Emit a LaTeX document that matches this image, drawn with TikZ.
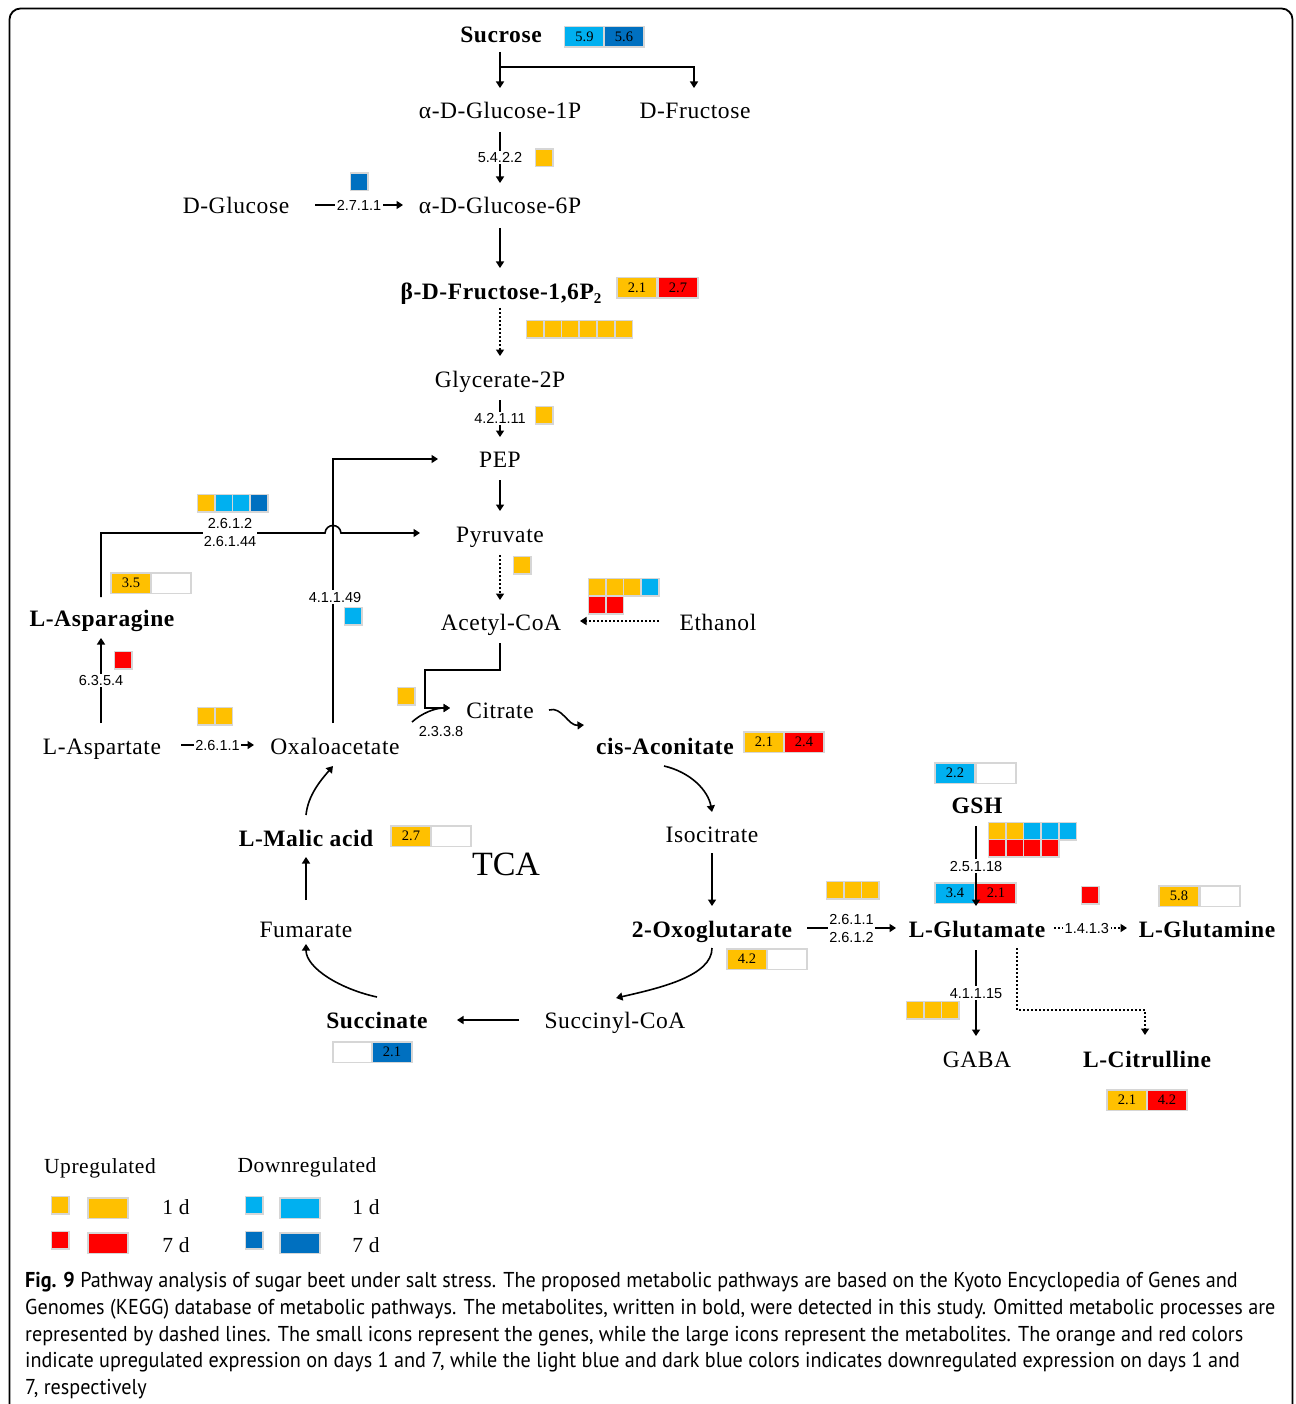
\documentclass[tikz,border=0pt]{standalone}
\usepackage{fontspec}
\setmainfont{Liberation Serif}
\newfontfamily\metfont{Liberation Serif}[LetterSpace=2.5]
\newfontfamily\lsans{Liberation Sans}
\newfontfamily\capfont{PT Sans}[FakeStretch=0.938]
\usetikzlibrary{arrows.meta,calc}
\definecolor{cOr}{HTML}{FFC000}
\definecolor{cRd}{HTML}{FF0000}
\definecolor{cLb}{HTML}{00B0F0}
\definecolor{cDb}{HTML}{0070C0}
\definecolor{cBd}{HTML}{D6D6D6}
\tikzset{
 met/.style={font=\metfont\fontsize{23.5}{28}\selectfont, text height=16pt, text depth=0pt, inner sep=0pt},
 metb/.style={met, font=\metfont\fontsize{23.5}{28}\selectfont\bfseries},
 enz/.style={font=\lsans\fontsize{14.5}{16}\selectfont, fill=white, text height=10.5pt, text depth=0pt, inner sep=1.5pt},
 enztwo/.style={font=\lsans\fontsize{14.5}{18}\selectfont, fill=white, align=center, inner sep=1pt},
 mbox/.style={draw=cBd, line width=1.5pt, minimum width=40pt, minimum height=20.5pt, inner sep=0pt, font=\fontsize{14.5}{14.5}\selectfont, text height=9.5pt, text depth=0pt},
 sbox/.style={draw=cBd, line width=1.5pt, minimum size=17.5pt, inner sep=0pt},
 marrow/.style={line width=1.6pt, -{Triangle[length=6.5pt,width=8pt]}},
 mline/.style={line width=1.6pt},
 mdot/.style={line width=1.6pt, dash pattern=on 2pt off 2pt},
 legt/.style={font=\metfont\fontsize{21.5}{24}\selectfont, inner sep=0pt},
 capl/.style={font=\capfont\fontsize{21.5}{24}\selectfont, anchor=base west, inner sep=0pt},
}
\begin{document}
\begin{tikzpicture}[x=1pt,y=-1pt]
\useasboundingbox (0,0) rectangle (1295,1404);
\draw[line width=1.8pt, rounded corners=11pt] (9.5,1410) -- (9.5,8.5) -- (1292.5,8.5) -- (1292.5,1410);

% metabolites
\node[metb] (suc) at (501,35) {Sucrose};
\node[met] (g1p) at (500,111) {α-D-Glucose-1P};
\node[met] (fru) at (695,111) {D-Fructose};
\node[met] (g6p) at (500,206) {α-D-Glucose-6P};
\node[met] (glc) at (236,206) {D-Glucose};
\node[metb] (f16) at (501,291) {β-D-Fructose-1,6P\raisebox{-4pt}{\fontsize{15}{15}\selectfont 2}};
\node[met] (gly) at (500,379) {Glycerate-2P};
\node[met] (pep) at (500,459) {PEP};
\node[met] (pyr) at (500,534) {Pyruvate};
\node[met] (acc) at (501,622) {Acetyl-CoA};
\node[met] (eth) at (718,622) {Ethanol};
\node[metb] (asn) at (102,618) {L-Asparagine};
\node[met] (asp) at (102,746) {L-Aspartate};
\node[met] (oaa) at (335,746) {Oxaloacetate};
\node[met] (cit) at (500,710) {Citrate};
\node[metb] (cis) at (665,746) {cis-Aconitate};
\node[met] (iso) at (712,834) {Isocitrate};
\node[metb] (oxo) at (712,929) {2-Oxoglutarate};
\node[metb] (glu) at (977,929) {L-Glutamate};
\node[metb] (gsh) at (977,805) {GSH};
\node[metb] (gln) at (1207,929) {L-Glutamine};
\node[met] (gaba) at (977,1059) {GABA};
\node[metb] (ctr) at (1147,1059) {L-Citrulline};
\node[met] (scoa) at (615,1020) {Succinyl-CoA};
\node[metb] (succ) at (377,1020) {Succinate};
\node[met] (fum) at (306,929) {Fumarate};
\node[metb] (mal) at (306,838) {L-Malic acid};
\node[font=\fontsize{34}{36}\selectfont, inner sep=0pt] (tca) at (506,864) {TCA};

% large (metabolite) boxes
\node[mbox, fill=cLb] (B1) at (584.5,37) {5.9};
\node[mbox, fill=cDb] (B2) at (624,37) {5.6};
\node[mbox, fill=cOr] (B3) at (637,288) {2.1};
\node[mbox, fill=cRd] (B4) at (678,288) {2.7};
\node[mbox, fill=cOr] (B5) at (764,742) {2.1};
\node[mbox, fill=cRd] (B6) at (804,742) {2.4};
\node[mbox, fill=cOr] (B7) at (131,583) {3.5};
\node[mbox, fill=white] (B8) at (171,583) {};
\node[mbox, fill=cOr] (B9) at (411,836) {2.7};
\node[mbox, fill=white] (B10) at (451,836) {};
\node[mbox, fill=cLb] (B11) at (955,773) {2.2};
\node[mbox, fill=white] (B12) at (996,773) {};
\node[mbox, fill=cLb] (B13) at (955,893) {3.4};
\node[mbox, fill=cRd] (B14) at (996,893) {2.1};
\node[mbox, fill=cOr] (B15) at (1179,896) {5.8};
\node[mbox, fill=white] (B16) at (1220,896) {};
\node[mbox, fill=cOr] (B17) at (747,959) {4.2};
\node[mbox, fill=white] (B18) at (787,959) {};
\node[mbox, fill=white] (B19) at (353,1052) {};
\node[mbox, fill=cDb] (B20) at (392,1052) {2.1};
\node[mbox, fill=cOr] (B21) at (1127,1100) {2.1};
\node[mbox, fill=cRd] (B22) at (1167,1100) {4.2};

% small (gene) boxes
\node[sbox, fill=cOr] (s1) at (544,158) {};
\node[sbox, fill=cDb] (s2) at (359,182) {};
\node[sbox, fill=cOr] (s3a) at (535,329) {};
\node[sbox, fill=cOr] (s3b) at (552.7,329) {};
\node[sbox, fill=cOr] (s3c) at (570.4,329) {};
\node[sbox, fill=cOr] (s3d) at (588.1,329) {};
\node[sbox, fill=cOr] (s3e) at (605.8,329) {};
\node[sbox, fill=cOr] (s3f) at (623.5,329) {};
\node[sbox, fill=cOr] (s4) at (544,415) {};
\node[sbox, fill=cOr] (s5a) at (206,503) {};
\node[sbox, fill=cLb] (s5b) at (223.7,503) {};
\node[sbox, fill=cLb] (s5c) at (241.4,503) {};
\node[sbox, fill=cDb] (s5d) at (259.1,503) {};
\node[sbox, fill=cLb] (s6) at (353,616) {};
\node[sbox, fill=cRd] (s7) at (123,660) {};
\node[sbox, fill=cOr] (s8a) at (206,716) {};
\node[sbox, fill=cOr] (s8b) at (223.7,716) {};
\node[sbox, fill=cOr] (s9) at (522,565) {};
\node[sbox, fill=cOr] (s10a) at (597,587) {};
\node[sbox, fill=cOr] (s10b) at (614.7,587) {};
\node[sbox, fill=cOr] (s10c) at (632.4,587) {};
\node[sbox, fill=cLb] (s10d) at (650.1,587) {};
\node[sbox, fill=cRd] (s10e) at (597,605) {};
\node[sbox, fill=cRd] (s10f) at (614.7,605) {};
\node[sbox, fill=cOr] (s11) at (406,696) {};
\node[sbox, fill=cOr] (s12a) at (835,890) {};
\node[sbox, fill=cOr] (s12b) at (852.7,890) {};
\node[sbox, fill=cOr] (s12c) at (870.4,890) {};
\node[sbox, fill=cOr] (s13a) at (997,831) {};
\node[sbox, fill=cOr] (s13b) at (1014.7,831) {};
\node[sbox, fill=cLb] (s13c) at (1032.4,831) {};
\node[sbox, fill=cLb] (s13d) at (1050.1,831) {};
\node[sbox, fill=cLb] (s13e) at (1067.8,831) {};
\node[sbox, fill=cRd] (s13f) at (997,848) {};
\node[sbox, fill=cRd] (s13g) at (1014.7,848) {};
\node[sbox, fill=cRd] (s13h) at (1032.4,848) {};
\node[sbox, fill=cRd] (s13i) at (1050.1,848) {};
\node[sbox, fill=cRd] (s14) at (1090,895) {};
\node[sbox, fill=cOr] (s15a) at (915,1010) {};
\node[sbox, fill=cOr] (s15b) at (932.7,1010) {};
\node[sbox, fill=cOr] (s15c) at (950.4,1010) {};

% connectors
\draw[marrow] ($(suc)+(-1,17)$) -- ($(g1p)+(0,-23)$);
\draw[marrow] ($(suc)+(-1,32)$) -| ($(fru)+(-1,-23)$);
\draw[marrow] ($(g1p)+(0,21)$) -- node[enz] (e1) {5.4.2.2} ($(g6p)+(0,-23)$);
\draw[marrow] ($(glc)+(79,-1)$) -- node[enz] (e2) {2.7.1.1} ($(g6p)+(-97,-1)$);
\draw[marrow] ($(g6p)+(0,22)$) -- ($(f16)+(-1,-23)$);
\draw[mdot, -{Triangle[length=6.5pt,width=8pt]}] ($(f16)+(-1,17)$) -- ($(gly)+(0,-23)$);
\draw[marrow] ($(gly)+(0,21)$) -- node[enz] (e3) {4.2.1.11} ($(pep)+(0,-22)$);
\draw[marrow] ($(pep)+(0,21)$) -- ($(pyr)+(0,-23)$);
\draw[mdot, -{Triangle[length=6.5pt,width=8pt]}] ($(pyr)+(0,21)$) -- ($(acc)+(-1,-22)$);
\draw[mdot, -{Triangle[length=6.5pt,width=8pt]}] ($(eth)+(-59,-1)$) -- ($(acc)+(79,-1)$);
\draw[marrow] ($(acc)+(-1,21)$) -- ++(0,27) -- ++(-75,0) -- ++(0,38) -- ($(cit)+(-50,-2)$);
\draw[marrow] ($(oaa)+(77,-24)$) .. controls +(10,-9) and +(-15,0) .. ($(cit)+(-50,-2)$);
\node[enz, fill=none] (e4) at (441,731) {2.3.3.8};
\draw[marrow] ($(cit)+(49,0)$) .. controls +(13,-4) and +(-16,1) .. ($(cis)+(-81,-21)$);
\draw[marrow] ($(cis)+(-1,20)$) .. controls +(26,6) and +(-4,-22) .. ($(iso)+(0,-22)$);
\draw[marrow] ($(iso)+(0,19)$) -- ($(oxo)+(0,-23)$);
\draw[marrow] ($(oxo)+(95,-1)$) -- node[enztwo] (e5) {2.6.1.1\\2.6.1.2} ($(glu)+(-81,-1)$);
\draw[marrow] ($(gsh)+(-1,21)$) -- node[enz] (e6) {2.5.1.18} ($(glu)+(-1,-23)$);
\draw[mdot, -{Triangle[length=6.5pt,width=8pt]}] ($(glu)+(77,-1)$) -- node[enz, pos=0.45] (e7) {1.4.1.3} ($(gln)+(-80,-1)$);
\draw[marrow] ($(glu)+(-1,21)$) -- node[enz] (e8) {4.1.1.15} ($(gaba)+(-1,-23)$);
\draw[mdot, -{Triangle[length=6.5pt,width=8pt]}] ($(glu)+(40,19)$) -- ++(0,62) -- ++(128,0) -- ($(ctr)+(-2,-24)$);
\draw[marrow] ($(oxo)+(0,19)$) .. controls +(0,28) and +(44,-10) .. ($(scoa)+(1,-22)$);
\draw[marrow] ($(scoa)+(-96,0)$) -- ($(succ)+(80,0)$);
\draw[marrow] ($(succ)+(0,-23)$) .. controls +(-37,-8) and +(0,24) .. ($(fum)+(0,15)$);
\draw[marrow] ($(fum)+(0,-29)$) -- ($(mal)+(0,19)$);
\draw[marrow] ($(mal)+(0,-23)$) .. controls +(2,-20) and +(-12,14) .. ($(oaa)+(-2,20)$);
\draw[marrow] ($(oaa)+(-2,-23)$) |- ($(pep)+(-62,0)$);
\node[enz] (e9) at ($(oaa)+(0,-149)$) {4.1.1.49};
\draw[marrow] ($(asp)+(-1,-23)$) -- node[enz] (e10) {6.3.5.4} ($(asn)+(-1,20)$);
\draw[marrow] ($(asn)+(-1,-21)$) -- ++(0,-64) -- ++(224,0) .. controls +(1,-10) and +(-1,-10) .. ++(16,0) -- ($(pyr)+(-80,-1)$);
\node[enztwo] (e11) at (230,533) {2.6.1.2\\2.6.1.44};
\draw[marrow] ($(asp)+(79,-1)$) -- node[enz] (e12) {2.6.1.1} ($(oaa)+(-81,-1)$);

% legend
\node[legt] (lu) at (100,1168) {Upregulated};
\node[legt] (ld) at (307,1167) {Downregulated};
\node[sbox, fill=cOr] (l1) at (60,1205) {};
\node[mbox, fill=cOr] (l2) at (108,1208) {};
\node[sbox, fill=cRd] (l3) at (60,1240) {};
\node[mbox, fill=cRd] (l4) at (108,1243) {};
\node[sbox, fill=cLb] (l5) at (254,1205) {};
\node[mbox, fill=cLb] (l6) at (300,1208) {};
\node[sbox, fill=cDb] (l7) at (254,1240) {};
\node[mbox, fill=cDb] (l8) at (300,1243) {};
\node[legt] (lt1) at (176,1207) {1 d};
\node[legt] (lt2) at (176,1245) {7 d};
\node[legt] (lt3) at (366,1207) {1 d};
\node[legt] (lt4) at (366,1245) {7 d};

% caption
\node[capl] (c1) at (25,1287) {\textbf{Fig. 9} Pathway analysis of sugar beet under salt stress. The proposed metabolic pathways are based on the Kyoto Encyclopedia of Genes and};
\node[capl] (c2) at (25,1314) {Genomes (KEGG) database of metabolic pathways. The metabolites, written in bold, were detected in this study. Omitted metabolic processes are};
\node[capl] (c3) at (25,1341) {represented by dashed lines. The small icons represent the genes, while the large icons represent the metabolites. The orange and red colors};
\node[capl] (c4) at (25,1367) {indicate upregulated expression on days 1 and 7, while the light blue and dark blue colors indicates downregulated expression on days 1 and};
\node[capl] (c5) at (25,1394) {7, respectively};
\end{tikzpicture}
\end{document}
